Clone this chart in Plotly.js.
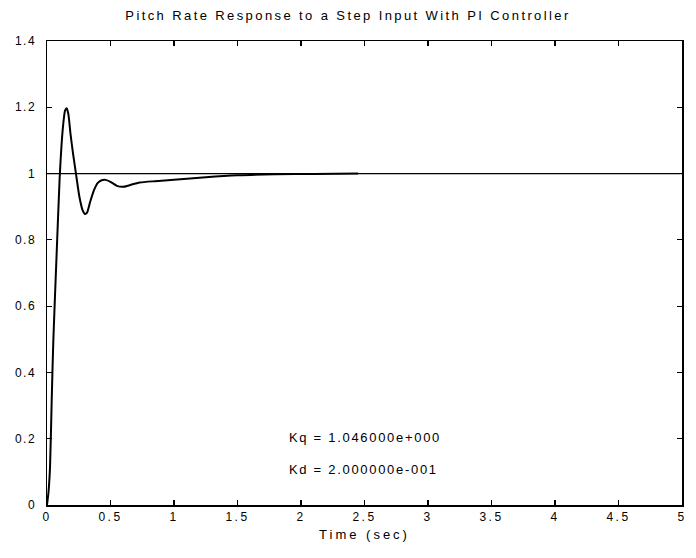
<!DOCTYPE html>
<html>
<head>
<meta charset="utf-8">
<script src="https://cdn.plot.ly/plotly-3.0.1.min.js"></script>
<style>html,body{margin:0;padding:0;background:#fff;}#chart{width:696px;height:558px;}</style>
</head>
<body>
<div id="chart"></div>
<script>
var timeSec = [0, 0.012, 0.024, 0.037, 0.05, 0.075, 0.1, 0.115, 0.128, 0.142, 0.155, 0.168, 0.185, 0.205, 0.228, 0.255, 0.28, 0.3, 0.315, 0.34, 0.37, 0.4, 0.43, 0.462, 0.5, 0.55, 0.6, 0.65, 0.73, 0.85, 1.0, 1.25, 1.5, 1.8, 2.1, 2.45];
var pitchRate = [0, 0.04, 0.116, 0.317, 0.498, 0.75, 0.99, 1.09, 1.15, 1.19, 1.197, 1.18, 1.12, 1.06, 1.0, 0.93, 0.89, 0.878, 0.882, 0.915, 0.95, 0.972, 0.98, 0.981, 0.975, 0.963, 0.96, 0.965, 0.973, 0.977, 0.981, 0.989, 0.995, 0.998, 0.999, 1.0];
var refX = [0, 5];
var refY = [1, 1];
var xTicks = [0, 0.5, 1, 1.5, 2, 2.5, 3, 3.5, 4, 4.5, 5];
var yTicks = [0, 0.2, 0.4, 0.6, 0.8, 1, 1.2, 1.4];
var notes = ["Kq = 1.046000e+000", "Kd = 2.000000e-001"];
var noteX = [1.89, 1.89];
var noteY = [0.205, 0.106];
var titleText = "Pitch Rate Response to a Step Input With PI Controller";
var xTitleText = "Time (sec)";

function spaced(s, px) {
  return '<span style="letter-spacing:' + px + 'px">' + s + '</span>';
}

var fnt = "Liberation Sans, Arial, sans-serif";
var traces = [
  {x: refX, y: refY, mode: "lines", line: {color: "#000", width: 1.2}, hoverinfo: "skip"},
  {x: timeSec, y: pitchRate, mode: "lines", line: {color: "#000", width: 2, shape: "spline", smoothing: 0.6}}
];
var annotations = notes.map(function(t, i) {
  return {x: noteX[i], y: noteY[i], xref: "x", yref: "y", text: spaced(t, 1.7), showarrow: false,
          xanchor: "left", yanchor: "middle", font: {family: fnt, size: 13, color: "#000"}};
});
var axisCommon = {
  showgrid: false, zeroline: false, showline: true, linecolor: "#000", linewidth: 1.5,
  mirror: "ticks", ticks: "inside", ticklen: 5, tickcolor: "#000", tickwidth: 1.2,
  tickfont: {family: fnt, size: 12, color: "#000"}
};
var layout = {
  width: 696, height: 558,
  margin: {l: 47, r: 14, t: 41, b: 53},
  paper_bgcolor: "#fff", plot_bgcolor: "#fff",
  showlegend: false,
  title: {text: spaced(titleText, 2.4), x: 0.5, xanchor: "center", y: 0.973, yanchor: "middle",
          font: {family: fnt, size: 13, color: "#000"}},
  xaxis: Object.assign({}, axisCommon, {range: [0, 5], tickvals: xTicks,
          ticktext: xTicks.map(function(v){ return spaced(String(v), 2.5); }),
          title: {text: spaced(xTitleText, 3), font: {family: fnt, size: 13, color: "#000"}, standoff: 7}}),
  yaxis: Object.assign({}, axisCommon, {range: [0, 1.4], tickvals: yTicks, ticklabelstandoff: 7,
          ticktext: yTicks.map(function(v){ return spaced(String(v), 1.5); })}),
  annotations: annotations
};
Plotly.newPlot("chart", traces, layout, {staticPlot: true, displayModeBar: false});
</script>
</body>
</html>
